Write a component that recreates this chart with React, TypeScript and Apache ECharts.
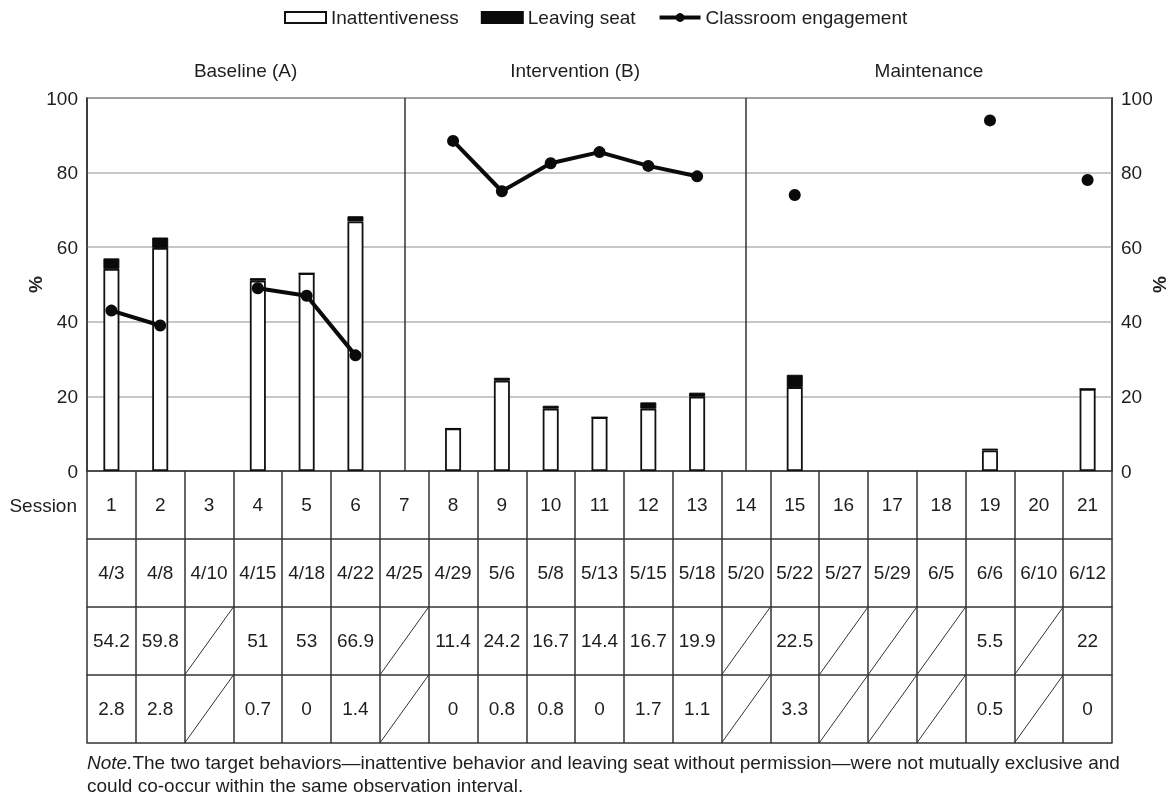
import React, { useEffect, useRef } from "react";
import * as echarts from "echarts";

const sessions = ["1","2","3","4","5","6","7","8","9","10","11","12","13","14","15","16","17","18","19","20","21"];
const dates = ["4/3","4/8","4/10","4/15","4/18","4/22","4/25","4/29","5/6","5/8","5/13","5/15","5/18","5/20","5/22","5/27","5/29","6/5","6/6","6/10","6/12"];
const inattentiveness: (number | null)[] = [54.2, 59.8, null, 51, 53, 66.9, null, 11.4, 24.2, 16.7, 14.4, 16.7, 19.9, null, 22.5, null, null, null, 5.5, null, 22];
const leavingSeat: (number | null)[] = [2.8, 2.8, null, 0.7, 0, 1.4, null, 0, 0.8, 0.8, 0, 1.7, 1.1, null, 3.3, null, null, null, 0.5, null, 0];
const engagement: (number | null)[] = [43, 39, null, 49, 47, 31, null, 88.5, 75, 82.5, 85.5, 81.8, 79, null, 74, null, null, null, 94, null, 78];
const phaseNames = ["Baseline (A)", "Intervention (B)", "Maintenance"];
const phaseDividers = ["7", "14"];
const noteItalic = "Note.";
const noteLine1 = "The two target behaviors\u2014inattentive behavior and leaving seat without permission\u2014were not mutually exclusive and";
const noteLine2 = "could co-occur within the same observation interval.";

const FONT = "'Liberation Sans', Arial, sans-serif";
const TXT = "#1e1e1e";
const LINE = "#333";
const ROW_H = 68;
const FS = 19;
const W = 1173;
const H = 799;

const fmt = (v: number | null) => (v === null ? "" : String(v));

function tableAxis(data: string[], offset: number, showLabel: boolean, showTick: boolean) {
  return {
    type: "category",
    data,
    position: "bottom",
    offset,
    boundaryGap: true,
    axisLine: { show: true, onZero: false, lineStyle: { color: LINE, width: 1.5 } },
    axisTick: { show: showTick, length: ROW_H, inside: false, interval: 0, alignWithLabel: false, lineStyle: { color: LINE, width: 1.5 } },
    axisLabel: { show: showLabel, interval: 0, margin: 24, fontSize: FS, color: TXT, fontFamily: FONT },
    splitLine: { show: false },
  };
}

export default function App() {
  const ref = useRef<HTMLDivElement>(null);
  useEffect(() => {
    if (!ref.current) return;
    const chart = echarts.init(ref.current, undefined, { renderer: "svg", width: W, height: H });
    const yAxisBase = {
      type: "value",
      min: 0,
      max: 100,
      interval: 20,
      name: "%",
      nameLocation: "middle",
      nameRotate: 90,
      nameMoveOverlap: false,
      nameTextStyle: { fontSize: FS, color: TXT, fontFamily: FONT, fontWeight: "bold" },
      axisLine: { show: true, onZero: false, lineStyle: { color: LINE, width: 1.5 } },
      axisTick: { show: false },
      axisLabel: { fontSize: FS, color: TXT, fontFamily: FONT, margin: 9 },
    };
    chart.setOption({
      animation: false,
      textStyle: { fontFamily: FONT },
      grid: {
        left: 87, right: 61, top: 98, bottom: 328,
        outerBoundsMode: "none",
        containLabel: false,
        show: true, borderColor: LINE, borderWidth: 1.5,
      },
      legend: {
        top: 8,
        left: 284,
        padding: 0,
        itemWidth: 41,
        itemHeight: 11,
        itemGap: 22,
        textStyle: { fontSize: FS, color: TXT, fontFamily: FONT },
        data: [
          { name: "Inattentiveness", icon: "rect" },
          { name: "Leaving seat", icon: "rect" },
          { name: "Classroom engagement", lineStyle: { width: 4 } },
        ],
      },
      xAxis: [
        tableAxis(sessions, 0, true, true),
        tableAxis(dates, ROW_H, true, true),
        tableAxis(inattentiveness.map(fmt), ROW_H * 2, true, true),
        tableAxis(leavingSeat.map(fmt), ROW_H * 3, true, true),
        tableAxis(sessions, ROW_H * 4, false, false),
      ],
      yAxis: [
        { ...yAxisBase, position: "left", nameGap: 42, splitLine: { show: true, lineStyle: { color: "#b4b4b4", width: 1.5 } } },
        { ...yAxisBase, position: "right", nameGap: 38, splitLine: { show: false } },
      ],
      series: [
        {
          name: "Inattentiveness",
          type: "bar",
          stack: "behav",
          barWidth: 16,
          data: inattentiveness,
          itemStyle: { color: "#ffffff", borderColor: "#111", borderWidth: 1.8 },
          markLine: {
            silent: true,
            symbol: ["none", "none"],
            label: { show: false },
            lineStyle: { color: LINE, width: 1.5, type: "solid" },
            data: phaseDividers.map((d) => ({ xAxis: d })),
          },
        },
        {
          name: "Leaving seat",
          type: "bar",
          stack: "behav",
          barWidth: 16,
          data: leavingSeat,
          itemStyle: { color: "#0a0a0a", borderColor: "#0a0a0a", borderWidth: 1 },
        },
        {
          name: "Classroom engagement",
          type: "line",
          data: engagement,
          connectNulls: false,
          symbol: "circle",
          symbolSize: 12,
          lineStyle: { color: "#0a0a0a", width: 4 },
          itemStyle: { color: "#0a0a0a" },
          z: 5,
        },
      ],
    });

    const px = (v: string) => chart.convertToPixel({ xAxisIndex: 0 }, v) as number;
    const cw = px(sessions[1]) - px(sessions[0]);
    const gridLeft = px(sessions[0]) - cw / 2;
    const gridRight = px(sessions[sessions.length - 1]) + cw / 2;
    const yBottom = chart.convertToPixel({ yAxisIndex: 0 }, 0) as number;
    const bounds = [gridLeft, ...phaseDividers.map(px), gridRight];
    const graphics: any[] = [];
    phaseNames.forEach((n, i) => {
      graphics.push({
        type: "text",
        x: (bounds[i] + bounds[i + 1]) / 2,
        y: 70,
        style: { text: n, fontSize: FS, fill: TXT, fontFamily: FONT, align: "center", verticalAlign: "middle" },
      });
    });
    graphics.push({
      type: "text",
      x: gridLeft - 10,
      y: yBottom + ROW_H / 2,
      style: { text: "Session", fontSize: FS, fill: TXT, fontFamily: FONT, align: "right", verticalAlign: "middle" },
    });
    [inattentiveness, leavingSeat].forEach((row, r) => {
      const top = yBottom + ROW_H * (2 + r);
      row.forEach((v, i) => {
        if (v !== null) return;
        const cx = px(sessions[i]);
        graphics.push({
          type: "line",
          shape: { x1: cx - cw / 2, y1: top + ROW_H, x2: cx + cw / 2, y2: top },
          style: { stroke: LINE, lineWidth: 1 },
          silent: true,
        });
      });
    });
    graphics.push({
      type: "text",
      x: gridLeft,
      y: yBottom + ROW_H * 4 + 8,
      style: {
        text: "{i|" + noteItalic + "}" + noteLine1 + "\n" + noteLine2,
        fontSize: FS,
        lineHeight: 23,
        fill: TXT,
        fontFamily: FONT,
        align: "left",
        verticalAlign: "top",
        rich: { i: { fontStyle: "italic", fontSize: FS, fontFamily: FONT, fill: TXT, lineHeight: 23 } },
      },
    });
    chart.setOption({ graphic: graphics });

    return () => chart.dispose();
  }, []);
  return <div ref={ref} style={{ position: "fixed", left: 0, top: 0, width: W, height: H }} />;
}
